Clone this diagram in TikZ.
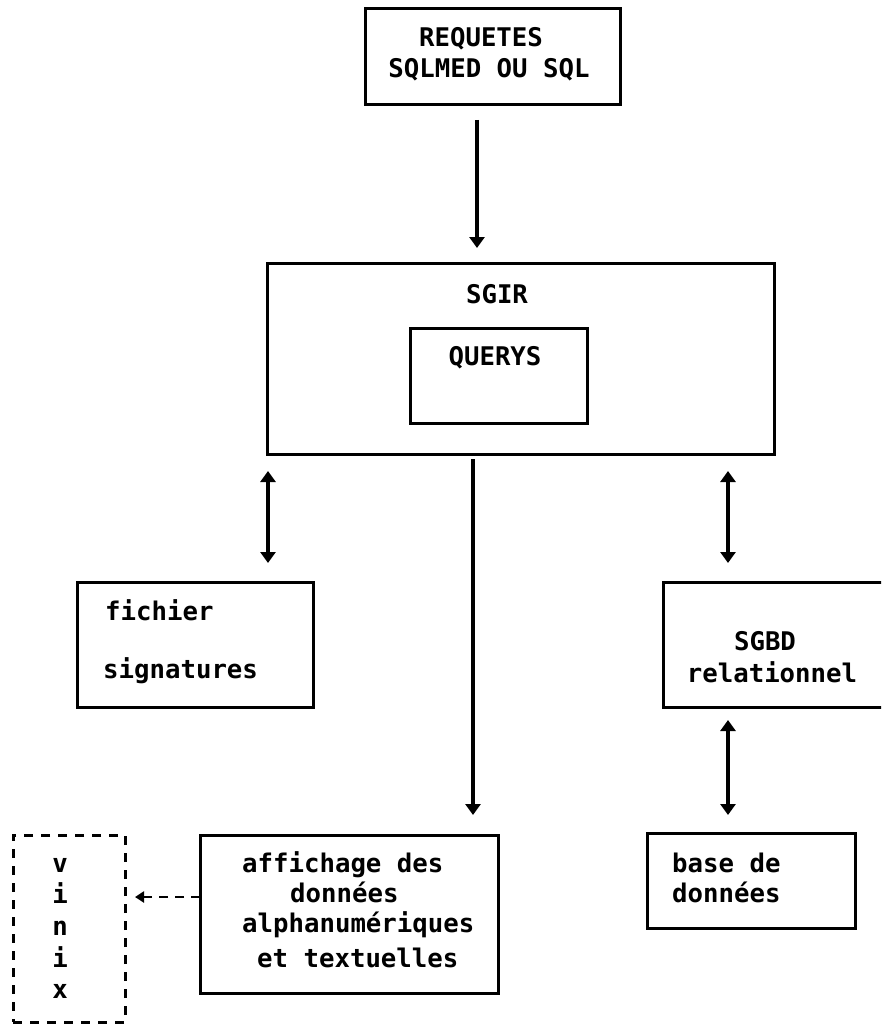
\documentclass[tikz,border=0pt]{standalone}
\usepackage{fontspec}
\setmonofont{DejaVu Sans Mono}
\usetikzlibrary{arrows.meta}
\begin{document}
\begin{tikzpicture}[x=1pt,y=-1pt,
  box/.style={draw, line width=3pt, inner sep=0pt, outer sep=0pt, anchor=north west},
  dbox/.style={box, dash pattern=on 9pt off 8pt},
  lbl/.style={font=\ttfamily\bfseries\fontsize{25.7}{30}\selectfont, inner sep=0pt},
  clbl/.style={lbl, anchor=base},
  llbl/.style={lbl, anchor=base west},
  headtip/.tip={Triangle[length=11pt,width=15pt]},
  arr/.style={line width=3.4pt, -headtip},
  darr/.style={line width=3.4pt, headtip-headtip},
  dasharr/.style={line width=2.6pt, dash pattern=on 9pt off 7pt, -{Triangle[length=9pt,width=11pt]}},
]
\useasboundingbox (0,0) rectangle (881,1024);
\clip (0,0) rectangle (881,1024);

% boxes
\node[box, minimum width=255pt, minimum height=96pt] (req) at (365,9) {};
\node[box, minimum width=507pt, minimum height=191pt] (sgir) at (267,263) {};
\node[box, minimum width=177pt, minimum height=95pt] (querys) at (410,328) {};
\node[box, minimum width=236pt, minimum height=125pt] (fich) at (77,582) {};
\node[box, minimum width=260pt, minimum height=125pt] (sgbd) at (663,582) {};
\node[box, minimum width=208pt, minimum height=95pt] (base) at (647,833) {};
\node[box, minimum width=298pt, minimum height=158pt] (aff) at (200,835) {};
\node[dbox, minimum width=112pt, minimum height=187pt] (vinix) at (13,835) {};

% texts
\node[clbl] (t1) at (481,47) {REQUETES};
\node[clbl] (t2) at (489,78) {SQLMED OU SQL};
\node[clbl] (t3) at (497,303) {SGIR};
\node[clbl] (t4) at (495,365) {QUERYS};
\node[llbl] (t5) at (105,620) {fichier};
\node[llbl] (t6) at (103,678) {signatures};
\node[clbl] (t7) at (765,650) {SGBD};
\node[clbl] (t8) at (772,682) {relationnel};
\node[llbl] (t9) at (672,872) {base de};
\node[llbl] (t10) at (672,902) {données};
\node[llbl] (t11) at (242,872) {affichage des};
\node[llbl] (t12) at (290,902) {données};
\node[llbl] (t13) at (242,932) {alphanumériques};
\node[llbl] (t14) at (257,967) {et textuelles};
\node[clbl] (v1) at (60,872) {v};
\node[clbl] (v2) at (60,903) {i};
\node[clbl] (v3) at (60,935) {n};
\node[clbl] (v4) at (60,967) {i};
\node[clbl] (v5) at (60,998) {x};

% arrow columns
\coordinate (c1) at (477,0);
\coordinate (c2) at (268,0);
\coordinate (c3) at (473,0);
\coordinate (c4) at (728,0);
\coordinate (r1) at (0,897);

% connectors
\draw[arr, shorten <=15pt, shorten >=15pt] (req.south -| c1) -- (sgir.north -| c1);
\draw[darr, shorten <=17pt, shorten >=19pt] (sgir.south -| c2) -- (fich.north -| c2);
\draw[arr, shorten <=5pt, shorten >=20pt] (sgir.south -| c3) -- (aff.north -| c3);
\draw[darr, shorten <=17pt, shorten >=19pt] (sgir.south -| c4) -- (sgbd.north -| c4);
\draw[darr, shorten <=13pt, shorten >=18pt] (sgbd.south -| c4) -- (base.north -| c4);
\draw[dasharr, shorten >=10pt] (aff.west |- r1) -- (vinix.east |- r1);
\end{tikzpicture}
\end{document}
